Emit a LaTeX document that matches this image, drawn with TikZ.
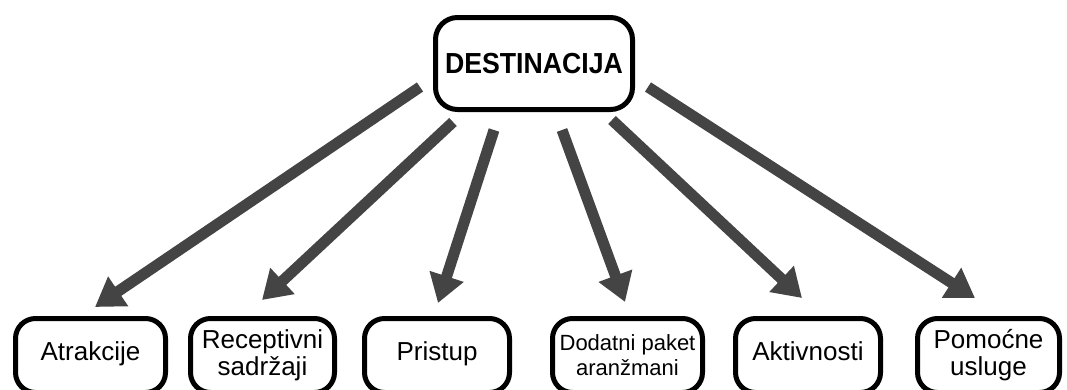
\documentclass[tikz,border=0pt]{standalone}
\usepackage{fontspec}
\usepackage{graphicx}
\setmainfont{Liberation Sans}
\usetikzlibrary{arrows.meta}
\definecolor{arrowgray}{HTML}{444444}

\begin{document}
\begin{tikzpicture}[x=1pt,y=-1pt,
  box/.style={draw,line width=5pt,rounded corners=20pt,align=center,inner sep=0pt,minimum height=74pt,font=\fontsize{26}{27}\selectfont},
  oneline/.style={text height=19pt,text depth=10pt},
  arr/.style={draw=arrowgray,line width=11pt,-{Triangle[length=28pt,width=34pt]}}]
\useasboundingbox (0,0) rectangle (1067,389);
\clip (0,0) rectangle (1067,389);

\node[box,minimum width=197pt,minimum height=92pt,rounded corners=22pt,font=\bfseries\fontsize{29}{30}\selectfont] (dest) at (534,63.5) {\scalebox{0.92}[1]{DESTINACIJA}};

\node[box,oneline,minimum width=150pt] (atr) at (90.5,355.5) {Atrakcije};
\node[box,minimum width=144pt] (rec) at (262.5,355.5) {Receptivni\\sadržaji};
\node[box,oneline,minimum width=145pt] (pri) at (437,355.5) {Pristup};
\node[box,minimum width=150pt,font=\fontsize{22}{25}\selectfont] (dod) at (627.5,355.5) {Dodatni paket\\aranžmani};
\node[box,oneline,minimum width=145pt] (akt) at (808,355.5) {Aktivnosti};
\node[box,minimum width=142pt] (pom) at (988.5,355.5) {Pomoćne\\usluge};

\coordinate (s1) at (420,87);  \coordinate (t1) at (95,307);
\coordinate (s2) at (453,122); \coordinate (t2) at (262,300);
\coordinate (s3) at (494,130); \coordinate (t3) at (438,303);
\coordinate (s4) at (562,130); \coordinate (t4) at (625,302);
\coordinate (s5) at (612,120); \coordinate (t5) at (802,298);
\coordinate (s6) at (648,87);  \coordinate (t6) at (975,298);

\foreach \a/\b in {s1/t1,s2/t2,s3/t3,s4/t4,s5/t5,s6/t6}{
\draw[arr] (\a) -- (\b);}

\end{tikzpicture}
\end{document}
